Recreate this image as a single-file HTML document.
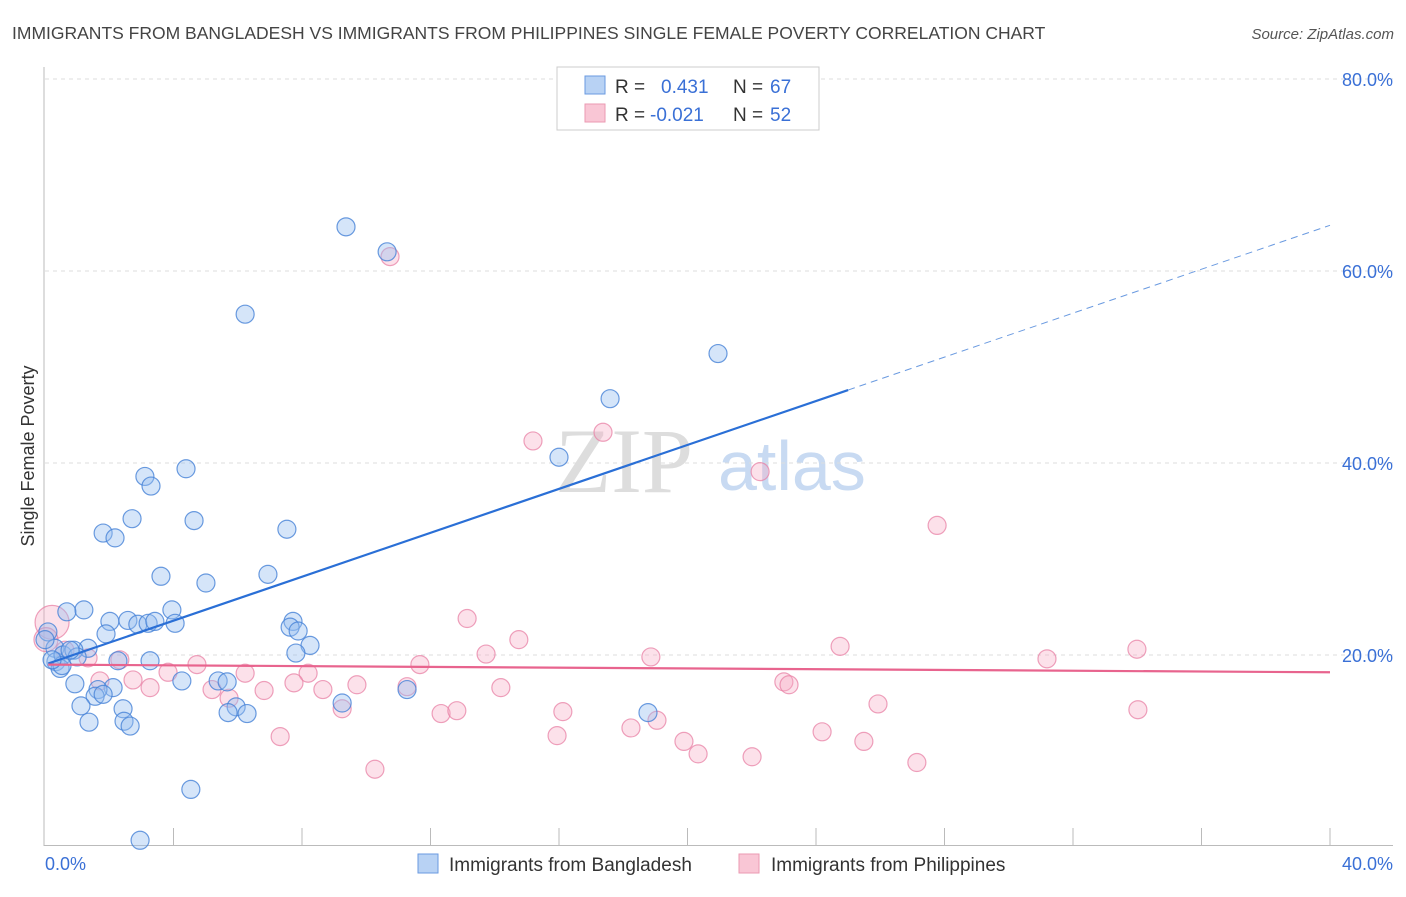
<!DOCTYPE html>
<html><head><meta charset="utf-8"><style>
body{margin:0;background:#fff;font-family:"Liberation Sans",sans-serif}
</style></head><body>
<svg width="1406" height="892" id="svg" xmlns="http://www.w3.org/2000/svg" font-family="Liberation Sans, sans-serif">
<text x="12" y="39" font-size="17.5" fill="#444">IMMIGRANTS FROM BANGLADESH VS IMMIGRANTS FROM PHILIPPINES SINGLE FEMALE POVERTY CORRELATION CHART</text>
<text x="1394" y="39" font-size="15" fill="#555" font-style="italic" text-anchor="end">Source: ZipAtlas.com</text>
<text x="555" y="492" font-size="92" fill="#ddd" font-family="Liberation Serif, serif">ZIP</text>
<text x="718" y="490" font-size="70" fill="#c8daf2">atlas</text>
<g id="grid"></g>
<line x1="44" y1="67" x2="44" y2="846" stroke="#bbb"/>
<line x1="44" y1="845.5" x2="1393" y2="845.5" stroke="#bbb"/>
<g id="ticks"></g>
<text x="1330" y="18" font-size="1" fill="none"> </text>
<text transform="translate(34,456) rotate(-90)" font-size="18" fill="#333" text-anchor="middle">Single Female Poverty</text>
<text x="45" y="870" font-size="18" fill="#3a70d6">0.0%</text>
<text x="1393" y="870" font-size="18" fill="#3a70d6" text-anchor="end">40.0%</text>
<g id="pts"></g>
<g id="trend"></g>
<g>
<rect x="557" y="67" width="262" height="63" fill="#fff" stroke="#ccc"/>
<rect x="585" y="76" width="20" height="18" fill="#b8d2f4" stroke="#6a9ae0"/>
<rect x="585" y="104" width="20" height="18" fill="#f9c6d5" stroke="#eb9ab2"/>
<text x="615" y="93" font-size="19" fill="#333">R =</text>
<text x="661" y="93" font-size="19" fill="#3a70d6">0.431</text>
<text x="733" y="93" font-size="19" fill="#333">N =</text>
<text x="770" y="93" font-size="19" fill="#3a70d6">67</text>
<text x="615" y="121" font-size="19" fill="#333">R =</text>
<text x="650" y="121" font-size="19" fill="#3a70d6">-0.021</text>
<text x="733" y="121" font-size="19" fill="#333">N =</text>
<text x="770" y="121" font-size="19" fill="#3a70d6">52</text>
</g>
<g>
<rect x="418" y="854" width="20" height="19" fill="#b8d2f4" stroke="#6a9ae0"/>
<text x="449" y="871" font-size="19" fill="#333">Immigrants from Bangladesh</text>
<rect x="739" y="854" width="20" height="19" fill="#f9c6d5" stroke="#eb9ab2"/>
<text x="771" y="871" font-size="19" fill="#333">Immigrants from Philippines</text>
</g>
</svg>
<script>
const yTicks=[20,40,60,80];
const yTickLabels=["20.0%","40.0%","60.0%","80.0%"];
const xTicks=[4,8,12,16,20,24,28,32,36,40];
const bdX=[9.37,10.65,6.23,20.95,17.59,16.0,4.39,3.11,3.30,2.71,4.64,1.81,2.18,7.53,3.61,5.01,6.94,1.21,0.68,3.95,2.02,2.58,2.89,3.21,3.42,4.05,7.72,7.63,7.88,1.90,0.09,0.31,1.34,8.25,7.81,0.34,0.56,0.90,1.0,3.27,0.0,0.47,0.93,2.27,2.12,1.65,1.56,1.81,4.26,5.39,5.67,1.12,2.43,2.46,2.65,1.37,5.95,5.70,6.29,9.25,11.27,18.77,4.54,2.96,0.53,0.22,0.78];
const bdY=[64.6,62.0,55.5,51.4,46.7,40.6,39.4,38.6,37.6,34.2,34.0,32.7,32.2,33.1,28.2,27.5,28.4,24.7,24.5,24.7,23.5,23.6,23.2,23.3,23.5,23.3,23.5,22.9,22.5,22.2,22.4,20.7,20.7,21.0,20.2,19.3,20.0,20.5,19.8,19.4,21.6,18.6,17.0,19.4,16.6,16.4,15.7,15.9,17.3,17.3,17.2,14.7,14.4,13.1,12.6,13.0,14.6,14.0,13.9,15.0,16.4,14.0,6.0,0.7,18.9,19.5,20.5];
const phX=[0.22,0.03,10.74,15.19,17.37,22.26,27.77,13.14,14.75,24.75,31.19,33.99,18.86,13.73,4.73,2.33,1.34,0.62,3.83,6.23,8.19,11.67,2.74,1.71,3.27,5.20,5.73,6.82,7.75,8.65,9.71,11.27,14.19,23.0,23.16,25.93,34.02,9.25,12.33,12.82,16.12,18.24,19.05,15.94,7.32,19.89,20.33,22.01,24.19,25.49,27.14,10.27];
const phY=[23.4,21.6,61.5,42.3,43.2,39.1,33.5,23.8,21.6,20.9,19.6,20.6,19.8,20.1,19.0,19.5,19.7,20.5,18.2,18.1,18.1,19.0,17.4,17.3,16.6,16.4,15.5,16.3,17.1,16.4,16.9,16.7,16.6,17.2,16.9,14.9,14.3,14.4,13.9,14.2,14.1,12.4,13.2,11.6,11.5,11.0,9.7,9.4,12.0,11.0,8.8,8.1];
const phR=[17,12];
const bdTrend=[19.0,1.144];
const phTrend=[19.0,-0.02];
const NS="http://www.w3.org/2000/svg";
const X=v=>45+v*1285/40, Y=v=>847-v*9.6;
function mk(tag,attrs,parent){const e=document.createElementNS(NS,tag);for(const k in attrs)e.setAttribute(k,attrs[k]);parent.appendChild(e);return e;}
const grid=document.getElementById('grid'),ticks=document.getElementById('ticks'),pts=document.getElementById('pts'),tr=document.getElementById('trend');
yTicks.forEach((t,i)=>{
 const l=mk('line',{x1:45,x2:1393,y1:Y(t),y2:Y(t),stroke:'#ddd','stroke-dasharray':'4,4'},grid);
 
 
 const tx=mk('text',{x:1393,y:Y(t)+7,'font-size':18,fill:'#3a70d6','text-anchor':'end'},grid);
 tx.textContent=yTickLabels[i];
 
 
});
xTicks.forEach(t=>{
 const l=mk('line',{x1:X(t),x2:X(t),y1:828,y2:845,stroke:'#bbb'},ticks);
 
 
});
phX.forEach((v,i)=>{
 const c=mk('circle',{cx:X(v),cy:Y(phY[i]),r:phR[i]||9,fill:'rgba(245,170,195,0.35)',stroke:'rgba(232,130,165,0.75)','stroke-width':1.2},pts);
 
 
});
bdX.forEach((v,i)=>{
 const c=mk('circle',{cx:X(v),cy:Y(bdY[i]),r:9,fill:'rgba(150,190,240,0.4)',stroke:'rgba(70,130,215,0.8)','stroke-width':1.2},pts);
 
 
});
const b1=mk('line',{x1:X(0.1),y1:Y(bdTrend[0]+bdTrend[1]*0.1),x2:X(25),y2:Y(bdTrend[0]+bdTrend[1]*25),stroke:'#2a6fd6','stroke-width':2.2},tr);


const b2=mk('line',{x1:X(25),y1:Y(bdTrend[0]+bdTrend[1]*25),x2:X(40),y2:Y(bdTrend[0]+bdTrend[1]*40),stroke:'#6a9ae0','stroke-width':1,'stroke-dasharray':'7,5'},tr);


const p1=mk('line',{x1:X(0.1),y1:Y(phTrend[0]),x2:X(40),y2:Y(phTrend[0]+phTrend[1]*40),stroke:'#e8648e','stroke-width':2.2},tr);


</script>
</body></html>
